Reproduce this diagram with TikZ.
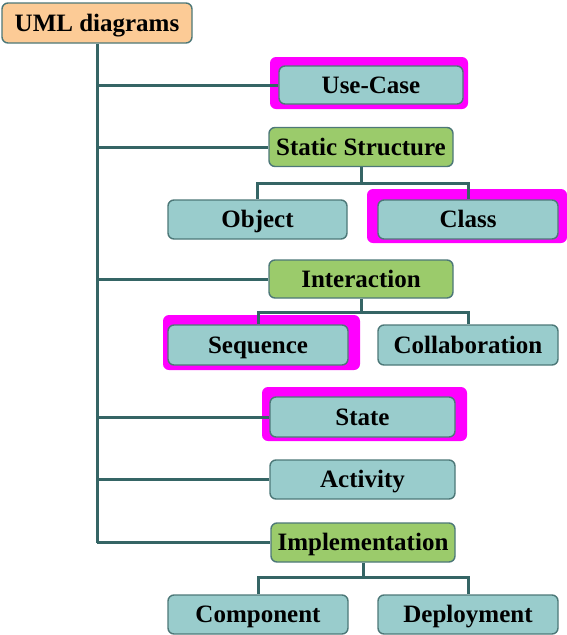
\documentclass[tikz,border=0pt]{standalone}
\usepackage{fontspec}
\setmainfont{Liberation Serif}
\pgfdeclarelayer{hl}
\pgfdeclarelayer{lines}
\pgfsetlayers{hl,lines,main}
\definecolor{peach}{HTML}{FCCB96}
\definecolor{teal}{HTML}{99CCCC}
\definecolor{leaf}{HTML}{9BCB6B}
\definecolor{edge}{HTML}{4D7878}
\definecolor{conn}{HTML}{356565}
\definecolor{hlc}{HTML}{FF00FF}
\tikzset{
  box/.style={draw=edge, line width=1.4pt, rounded corners=6pt, inner sep=0pt,
    text height=18pt, text depth=2pt,
    font=\fontsize{25}{28}\selectfont\bfseries, text=black, anchor=center},
  tbox/.style={box, fill=teal},
  gbox/.style={box, fill=leaf},
  conline/.style={draw=conn, line width=3pt},
  hlbox/.style={fill=hlc, rounded corners=6pt},
}
\begin{document}
\begin{tikzpicture}[x=1pt,y=-1pt]
\useasboundingbox (0,0) rectangle (566,635);
\node[box, fill=peach, minimum width=190pt, minimum height=40pt] (uml) at (97,23) {UML diagrams};
\node[tbox, minimum width=184pt, minimum height=38pt] (uc) at (371,85) {Use-Case};
\node[gbox, minimum width=184pt, minimum height=39pt] (ss) at (361,147) {Static Structure};
\node[tbox, minimum width=179pt, minimum height=39pt] (obj) at (257.5,219.5) {Object};
\node[tbox, minimum width=180pt, minimum height=39pt] (cls) at (468,219.5) {Class};
\node[gbox, minimum width=184pt, minimum height=38pt] (inter) at (361,279) {Interaction};
\node[tbox, minimum width=180pt, minimum height=40pt] (seq) at (258,345) {Sequence};
\node[tbox, minimum width=180pt, minimum height=40pt] (col) at (468,345) {Collaboration};
\node[tbox, minimum width=185pt, minimum height=40pt] (st) at (362.5,417) {State};
\node[tbox, minimum width=185pt, minimum height=39pt] (act) at (362.5,479.5) {Activity};
\node[gbox, minimum width=184pt, minimum height=39pt] (impl) at (363,542.5) {Implementation};
\node[tbox, minimum width=180pt, minimum height=39pt] (comp) at (258,614.5) {Component};
\node[tbox, minimum width=180pt, minimum height=39pt] (dep) at (468,614.5) {Deployment};
\begin{pgfonlayer}{hl}
\fill[hlbox] (270,57) rectangle (468,109);
\fill[hlbox] (367,189) rectangle (567,243);
\fill[hlbox] (163,315) rectangle (360,370);
\fill[hlbox] (262,387) rectangle (467,441);
\end{pgfonlayer}
\begin{pgfonlayer}{lines}
\draw[conline] (uml.south) -- (uml.south |- impl.west);
\draw[conline] (uml.south |- uc.west) -- (uc.west);
\draw[conline] (uml.south |- ss.west) -- (ss.west);
\draw[conline] (uml.south |- inter.west) -- (inter.west);
\draw[conline] (uml.south |- st.west) -- (st.west);
\draw[conline] (uml.south |- act.west) -- (act.west);
\draw[conline] (uml.south |- impl.west) -- (impl.west);
\draw[conline] (ss.south) -- ++(0,16) coordinate (j1) -| (obj.north);
\draw[conline] (j1) -| (cls.north);
\draw[conline] (inter.south) -- ++(0,14) coordinate (j2) -| (seq.north);
\draw[conline] (j2) -| (col.north);
\draw[conline] (impl.south) -- ++(0,15) coordinate (j3) -| (comp.north);
\draw[conline] (j3) -| (dep.north);
\end{pgfonlayer}
\end{tikzpicture}
\end{document}
